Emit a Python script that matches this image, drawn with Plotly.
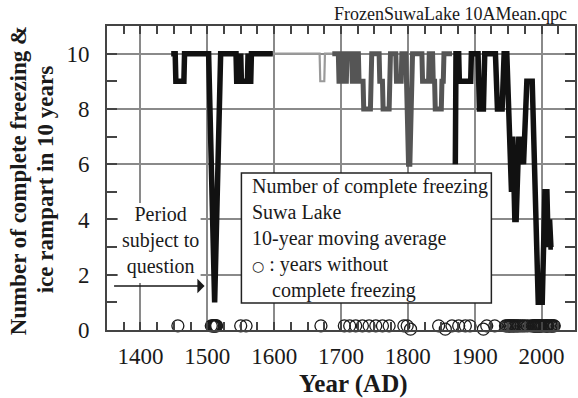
import plotly.graph_objects as go

# 10-year moving average of complete freezing / ice rampart counts (Suwa Lake)
early_years = [1446, 1452, 1453, 1465, 1466, 1502, 1511, 1520, 1543, 1544, 1549, 1550,
               1551, 1560, 1561, 1562, 1565, 1566, 1598]
early_vals = [10, 10, 9, 9, 10, 10, 1, 10, 10, 9, 9, 10, 9, 9, 10, 9, 9, 10, 10]

gap_years = [1596, 1668, 1669, 1675, 1676, 1688]
gap_vals = [10, 10, 9, 9, 10, 10]

edo_years = [1687, 1696, 1697, 1700, 1701, 1703, 1704, 1708, 1709, 1716,
             1717, 1721, 1722, 1726, 1727, 1733, 1734, 1744, 1745, 1746,
             1757, 1758, 1762, 1763, 1772, 1773, 1774, 1782, 1783, 1790,
             1791, 1797, 1801, 1803, 1807, 1821, 1822, 1831, 1832, 1837,
             1838, 1840, 1841, 1850, 1851, 1853, 1854, 1866]
edo_vals = [10, 10, 9, 9, 10, 10, 9, 9, 10, 10,
            9, 9, 10, 10, 9, 9, 8, 8, 9, 10,
            10, 9, 9, 8, 8, 9, 10, 10, 9, 9,
            10, 10, 6, 6, 10, 10, 9, 9, 10, 10,
            9, 9, 8, 8, 9, 9, 10, 10]

modern_years = [1871, 1872, 1876, 1877, 1894, 1895, 1905, 1906, 1907, 1913,
                1914, 1915, 1931, 1932, 1934, 1941, 1942, 1944, 1948, 1950,
                1953, 1955, 1957, 1958, 1960, 1962, 1964, 1966, 1968, 1970,
                1973, 1975, 1978, 1986, 1988, 1991, 1995, 2001, 2003, 2005,
                2008, 2010, 2012, 2014, 2017]
modern_vals = [6, 10, 10, 9, 9, 10, 10, 9, 8, 8,
               9, 10, 10, 9, 8, 8, 9, 10, 10, 8,
               6, 5, 7, 5, 4, 4, 6, 7, 6, 7,
               6, 7, 9, 9, 7, 4, 1, 1, 3, 5,
               5, 3, 4, 3, 3]

# years without complete freezing (two rows where records overlap)
open_years = [1456, 1506, 1508, 1509, 1510, 1511, 1512, 1513, 1514, 1550, 1558,
              1670, 1705, 1713, 1722, 1732, 1742, 1752, 1762, 1772, 1794, 1799,
              1846, 1866, 1876, 1886, 1893, 1918, 1930,
              1946, 1948, 1950, 1952, 1953, 1955, 1957, 1958, 1960, 1962, 1964,
              1966, 1969, 1972, 1975, 1979, 1984, 1987, 1988, 1989, 1990, 1991,
              1992, 1993, 1994, 1995, 1996, 1997, 1998, 1999, 2000, 2002, 2004,
              2006, 2007, 2008, 2009, 2010, 2012, 2014, 2015, 2016, 2018, 2019]
open_years_low = [1804, 1856, 1913]

ROW_Y = 0.15
ROW_Y_LOW = 0.03

x_ticks = [1400, 1500, 1600, 1700, 1800, 1900, 2000]
y_ticks = [0, 2, 4, 6, 8, 10]

SERIF = "Liberation Serif, Times New Roman, serif"
INK = "#1a1a1a"
FRAME = "#444444"
GRID = "#8a8a8a"

fig = go.Figure()

fig.add_trace(go.Scatter(x=gap_years, y=gap_vals, mode="lines",
                         line=dict(color="#9a9a9a", width=2.2)))
fig.add_trace(go.Scatter(x=early_years, y=early_vals, mode="lines",
                         line=dict(color="#111111", width=5.5)))
fig.add_trace(go.Scatter(x=edo_years, y=edo_vals, mode="lines",
                         line=dict(color="#555555", width=5)))
fig.add_trace(go.Scatter(x=modern_years, y=modern_vals, mode="lines",
                         line=dict(color="#111111", width=5.5)))

marker_style = dict(symbol="circle-open", size=12, color=INK, line=dict(width=1.3, color=INK))
fig.add_trace(go.Scatter(x=open_years, y=[ROW_Y] * len(open_years), mode="markers",
                         marker=marker_style, cliponaxis=False))
fig.add_trace(go.Scatter(x=open_years_low, y=[ROW_Y_LOW] * len(open_years_low), mode="markers",
                         marker=marker_style, cliponaxis=False))

fig.update_layout(
    width=578, height=398,
    margin=dict(l=107, r=1, t=26, b=68),
    paper_bgcolor="white", plot_bgcolor="white",
    showlegend=False,
    font=dict(family=SERIF, color=INK),
)

fig.update_xaxes(
    range=[1350, 2050], tickmode="array", tickvals=x_ticks,
    ticks="inside", ticklen=8, tickwidth=1.5, tickcolor=FRAME,
    showgrid=True, gridcolor=GRID, gridwidth=1.5,
    showline=True, linecolor=FRAME, linewidth=2, mirror="allticks",
    zeroline=False, tickfont=dict(family=SERIF, size=23, color=INK),
    ticklabelstandoff=4,
    minor=dict(dtick=25, tick0=1350, ticks="inside", ticklen=8, tickwidth=1.5,
               tickcolor=FRAME, showgrid=False),
)
fig.update_yaxes(
    range=[0, 11], tickmode="array", tickvals=y_ticks,
    ticks="inside", ticklen=10, tickwidth=1.5, tickcolor=FRAME,
    showgrid=True, gridcolor=GRID, gridwidth=1.5,
    showline=True, linecolor=FRAME, linewidth=2, mirror="allticks",
    zeroline=False, tickfont=dict(family=SERIF, size=23, color=INK),
    ticklabelstandoff=11,
    minor=dict(dtick=1, tick0=0, ticks="inside", ticklen=10, tickwidth=1.5,
               tickcolor=FRAME, showgrid=False),
)

# white panels: legend box and the note on the left
fig.add_shape(type="rect", xref="paper", yref="paper",
              x0=0.2872, x1=0.8213, y0=0.0888, y1=0.5164,
              fillcolor="white", line=dict(color="#222222", width=1.5), layer="above")
fig.add_shape(type="rect", xref="paper", yref="paper",
              x0=0.0234, x1=0.200, y0=0.1546, y1=0.4178,
              fillcolor="white", line=dict(width=0), layer="above")

legend_text = ("Number of complete freezing<br>Suwa Lake<br>10-year moving average<br>"
               '<span style="font-family:DejaVu Sans;font-size:14px">○</span> : years without<br>'
               "\u00a0\u00a0\u00a0\u00a0complete freezing")

annotations = [
    dict(text="FrozenSuwaLake 10AMean.qpc", xref="paper", yref="paper",
         x=0.9872, y=1.0395, xanchor="right", yanchor="middle", showarrow=False,
         font=dict(family=SERIF, size=18, color=INK)),
    dict(text="<b>Number of complete freezing &</b>", xref="paper", yref="paper",
         x=-0.1894, y=0.4934, xanchor="center", yanchor="middle", textangle=-90,
         showarrow=False, font=dict(family=SERIF, size=23, color=INK)),
    dict(text="<b>ice rampart in 10 years</b>", xref="paper", yref="paper",
         x=-0.1319, y=0.4934, xanchor="center", yanchor="middle", textangle=-90,
         showarrow=False, font=dict(family=SERIF, size=23, color=INK)),
    dict(text="<b>Year (AD)</b>", xref="paper", yref="paper",
         x=0.5277, y=-0.178, xanchor="center", yanchor="middle", showarrow=False,
         font=dict(family=SERIF, size=25, color=INK)),
    dict(text="Period<br>subject to<br>question", xref="paper", yref="paper",
         x=0.1149, y=0.2928, xanchor="center", yanchor="middle", align="center",
         showarrow=False, font=dict(family=SERIF, size=20, color=INK)),
    dict(text="", xref="paper", yref="paper", x=0.2085, y=0.1447,
         ax=-92, ay=0, showarrow=True, arrowhead=1, arrowsize=1.6,
         arrowwidth=1.5, arrowcolor=INK, standoff=0),
    dict(text=legend_text, xref="paper", yref="paper",
         x=0.3057, y=0.3026, xanchor="left", yanchor="middle", align="left",
         showarrow=False, font=dict(family=SERIF, size=20, color=INK)),
]
fig.update_layout(annotations=annotations)

fig.write_html("out.html")
